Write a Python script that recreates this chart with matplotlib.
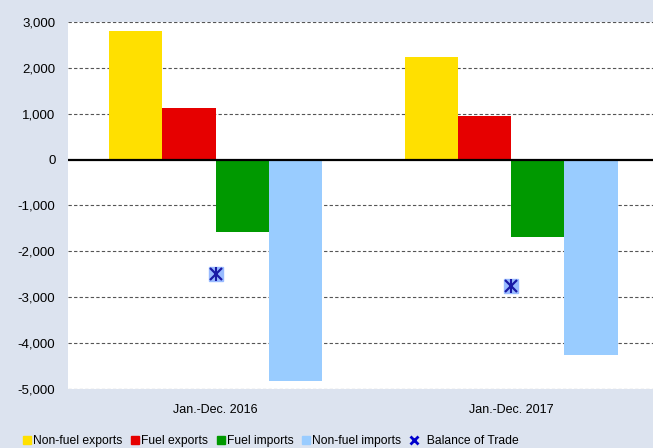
import matplotlib
matplotlib.use("Agg")
import matplotlib.pyplot as plt
from matplotlib.lines import Line2D
import numpy as np

# ─── data ────────────────────────────────────────────────────────────────────
periods = ["Jan.-Dec. 2016", "Jan.-Dec. 2017"]
series_names = ["Non-fuel exports", "Fuel exports", "Fuel imports", "Non-fuel imports"]
non_fuel_exports = [2800, 2240]
fuel_exports = [1130, 960]
fuel_imports = [-1590, -1680]
non_fuel_imports = [-4830, -4270]
balance_of_trade = [-2490, -2750]
yticks = [3000, 2000, 1000, 0, -1000, -2000, -3000, -4000, -5000]

# ─── style ───────────────────────────────────────────────────────────────────
C_BG = "#dce3ef"
COLORS = ["#ffe000", "#e60000", "#009900", "#99ccff"]
C_MARK = "#1a1aa6"
C_MARK_BG = "#99bbff"

plt.rcParams["font.family"] = ["Liberation Sans", "DejaVu Sans"]

fig = plt.figure(figsize=(6.53, 4.48), dpi=100, facecolor=C_BG)
ax = fig.add_axes([0.104, 0.132, 0.905, 0.819])
ax.set_facecolor("white")

x = np.arange(len(periods))
w = 0.18
values = [non_fuel_exports, fuel_exports, fuel_imports, non_fuel_imports]
for i, (vals, c, name) in enumerate(zip(values, COLORS, series_names)):
    ax.bar(x + (i - 1.5) * w, vals, width=w, color=c, label=name, zorder=3, linewidth=0)

# balance of trade marker: light square + asterisk
ax.plot(x, balance_of_trade, linestyle="none", marker="s", markersize=10,
        color=C_MARK_BG, zorder=4)
ax.plot(x, balance_of_trade, linestyle="none", marker="x", markersize=8.5,
        markeredgewidth=1.6, color=C_MARK, zorder=5)
ax.plot(x, balance_of_trade, linestyle="none", marker="|", markersize=10,
        markeredgewidth=1.5, color=C_MARK, zorder=5)

ax.set_xlim(-0.5, 1.5)
ax.set_ylim(-5000, 3000)
ax.set_yticks(yticks)
ax.set_yticklabels([f"{v:,}" for v in yticks], fontsize=9.5)
ax.set_xticks(x)
ax.set_xticklabels(periods, fontsize=9)
ax.tick_params(length=0)
ax.tick_params(axis="y", pad=9)
ax.tick_params(axis="x", pad=11)

for v in yticks:
    if v == 0:
        ax.axhline(0, color="black", linewidth=1.6, zorder=4)
    else:
        ax.axhline(v, color="#555555", linewidth=0.8, linestyle=(0, (3, 2)), zorder=1)

for s in ax.spines.values():
    s.set_visible(False)

# legend
handles = [Line2D([], [], linestyle="none", marker="s", markersize=6, color=c, label=n)
           for c, n in zip(COLORS, series_names)]
handles.append(Line2D([], [], linestyle="none", marker="x", markersize=6,
                      markeredgewidth=2, color="#0000cc", label="  Balance of Trade"))
fig.legend(handles=handles, loc="lower left", ncol=5, frameon=False,
           bbox_to_anchor=(0.02, -0.022), fontsize=8.7, handlelength=0.5,
           handletextpad=0.25, columnspacing=0.8)

fig.savefig("out.png", dpi=100, facecolor=C_BG)
